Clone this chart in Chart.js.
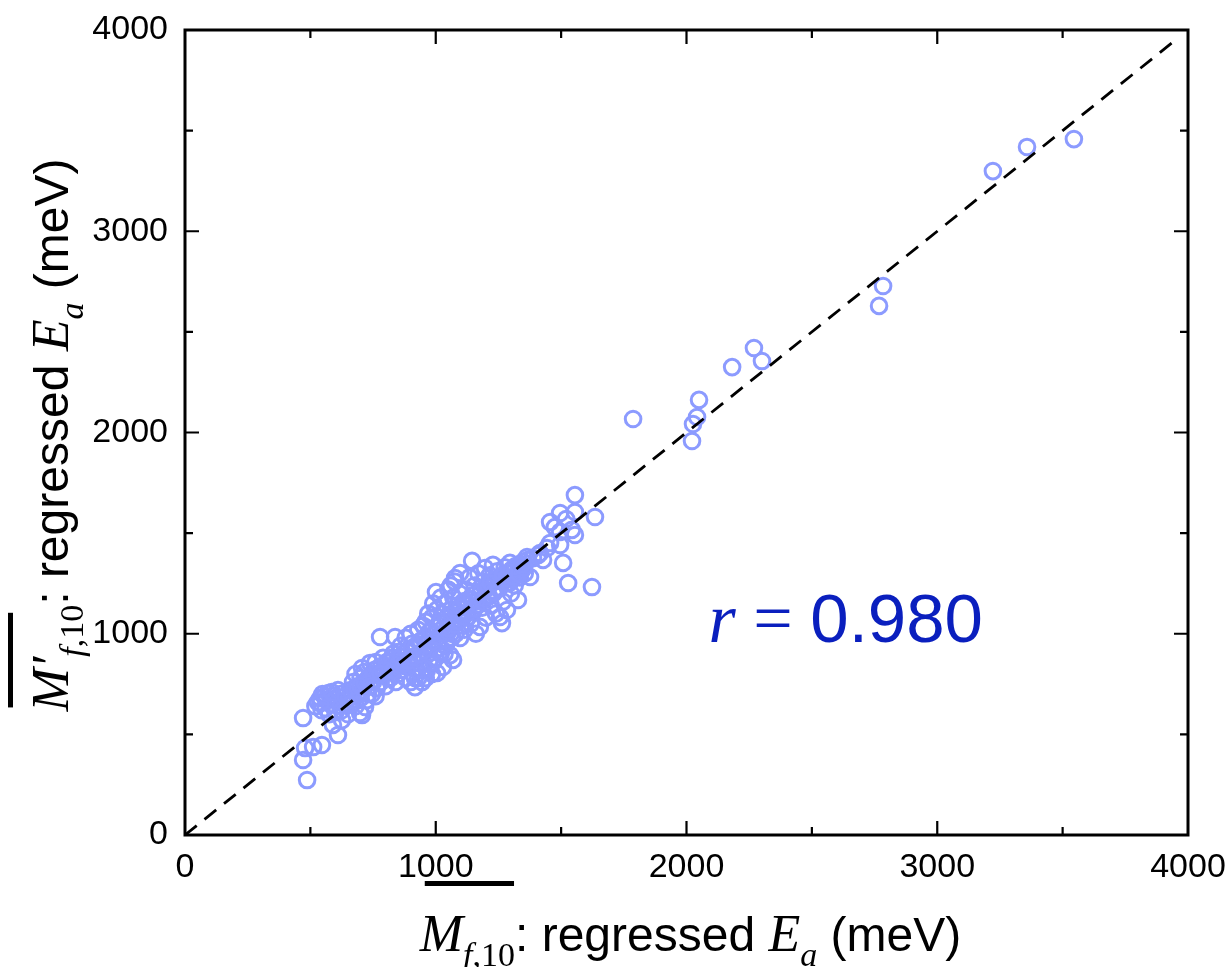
<!DOCTYPE html>
<html>
<head>
<meta charset="utf-8">
<script src="https://cdn.jsdelivr.net/npm/chart.js@4.4.1/dist/chart.umd.min.js"></script>
<style>
  html, body { margin: 0; padding: 0; background: #fff; }
  canvas { display: block; }
</style>
</head>
<body>
<canvas id="chart" width="1231" height="967"></canvas>
<script>
// axis ticks (meV)
const tickValues = [0, 1000, 2000, 3000, 4000];
const minorStep = 500;

// [M_f,10 regressed Ea, M'_f,10 regressed Ea] pairs
const lowEndPoints = [
  [471, 581], [487, 273], [471, 373], [479, 432], [511, 437], [546, 447],
  [610, 497], [590, 547], [626, 571], [520, 640], [530, 660], [540, 680],
  [548, 700], [556, 690], [565, 670], [572, 705], [580, 650], [590, 690],
  [600, 675], [560, 630], [545, 620], [612, 660], [620, 700], [630, 685],
  [640, 650], [575, 600], [600, 610], [625, 620], [655, 680], [540, 655],
  [585, 710], [610, 720], [650, 600], [665, 700], [680, 640], [698, 606]
];

const lowerBandPoints = [
  [706, 596], [718, 636], [706, 830], [738, 855], [660, 720], [670, 760],
  [685, 700], [690, 740], [700, 780], [710, 720], [720, 750], [730, 700],
  [740, 790], [750, 760], [755, 820], [765, 730], [770, 800], [780, 760],
  [785, 840], [795, 800], [700, 680], [725, 670], [745, 700], [760, 860],
  [680, 800], [715, 810], [735, 740], [790, 880], [778, 984], [800, 740],
  [760, 690], [810, 820], [820, 860], [830, 900], [838, 984], [845, 870],
  [850, 800], [860, 940], [870, 900], [875, 840], [880, 980], [890, 920],
  [895, 860], [900, 1000], [905, 950], [910, 800], [917, 735], [917, 780],
  [925, 880], [930, 1020], [935, 960], [940, 900], [945, 820], [950, 1040],
  [820, 780], [840, 760], [860, 820], [880, 780], [900, 760], [930, 780],
  [945, 760], [909, 870], [965, 820], [1005, 805], [1029, 835], [1057, 894],
  [620, 640], [640, 690], [660, 650], [675, 720], [695, 700], [715, 760],
  [730, 780], [750, 800], [770, 830], [790, 820], [805, 860], [825, 880],
  [840, 840], [855, 910], [700, 740], [740, 740], [780, 800], [810, 780],
  [830, 820], [850, 850], [925, 820], [950, 860], [975, 850], [1000, 880],
  [1015, 930], [1035, 900], [960, 780], [985, 800], [1045, 960], [1060, 1000]
];

const centralBandPoints = [
  [955, 980], [960, 1060], [970, 900], [975, 1010], [980, 940], [985, 1080],
  [990, 860], [995, 1000], [1001, 1207], [1005, 1120], [1010, 960], [1015, 1040],
  [1020, 900], [1025, 1100], [1030, 1000], [1035, 1150], [1040, 940], [1045, 1060],
  [1050, 1010], [1060, 1120], [1065, 980], [1069, 870], [1070, 1180], [1075, 1060],
  [1080, 1000], [1085, 1140], [1090, 1090], [1095, 1200], [1097, 979], [1100, 1040],
  [970, 1100], [990, 1150], [1020, 1180], [1050, 1220], [1060, 1240], [1075, 1260],
  [1077, 1277], [1097, 1302], [1105, 1100], [1110, 1160], [1115, 1020], [1120, 1220],
  [1125, 1080], [1130, 1140], [1135, 1280], [1140, 1050], [1145, 1362], [1145, 1190],
  [1150, 1110], [1155, 1240], [1160, 1000], [1165, 1160], [1170, 1300], [1176, 1034],
  [1180, 1210], [1185, 1130], [1190, 1260], [1196, 1327], [1200, 1080], [1205, 1180],
  [862, 885], [873, 851], [884, 912], [891, 868], [903, 928], [908, 884],
  [921, 941], [933, 897], [938, 962], [952, 918], [958, 985], [968, 947],
  [982, 1013], [987, 962], [1003, 1031], [1012, 986], [1018, 1057], [1033, 1004],
  [1042, 1078], [1048, 1027], [1063, 1093], [1072, 1046], [1079, 1118], [1092, 1064],
  [1098, 1131], [1112, 1087], [1118, 1162], [1127, 1103], [1142, 1171], [1153, 1124],
  [1158, 1196], [1171, 1144], [1183, 1212], [1188, 1163], [1201, 1236], [1212, 1186]
];

const upperBandPoints = [
  [1210, 1230], [1215, 1290], [1220, 1140], [1228, 1342], [1230, 1200], [1235, 1260],
  [1240, 1100], [1245, 1310], [1250, 1230], [1256, 1083], [1260, 1280], [1264, 1053],
  [1268, 1160], [1275, 1330], [1280, 1250], [1284, 1118], [1290, 1300], [1296, 1352],
  [1300, 1200], [1305, 1270], [1310, 1320], [1315, 1240], [1320, 1290], [1328, 1168],
  [1330, 1340], [1335, 1280], [1340, 1310], [1348, 1357], [1355, 1300], [1364, 1381],
  [1376, 1282], [1368, 1367], [1344, 1317], [1388, 1376], [1408, 1391], [1428, 1367],
  [1416, 1401], [1444, 1426], [1456, 1451], [1496, 1441], [1496, 1506], [1543, 1516],
  [1555, 1491], [1456, 1555], [1496, 1600], [1555, 1605], [1508, 1352], [1528, 1252],
  [1623, 1232], [1555, 1689], [1635, 1580], [1475, 1530], [1520, 1570],
  [1219, 1252], [1232, 1207], [1238, 1271], [1252, 1224], [1262, 1262], [1268, 1291],
  [1281, 1276], [1293, 1251], [1302, 1318], [1311, 1283], [1318, 1336], [1333, 1297],
  [1342, 1344], [1352, 1331]
];

const outlierPoints = [
  [1787, 2067], [2022, 1958], [2026, 2042], [2042, 2077], [2050, 2162],
  [2182, 2325], [2269, 2420], [2301, 2355], [2768, 2629], [2784, 2728],
  [3222, 3299], [3358, 3419], [3545, 3458]
];

// y = x reference line ends
const parityLine = [[0, 0], [3950, 3950]];

const pointColor = "rgb(140, 155, 255)";
const annotColor = "#0a1fbe";
const sansFont = '"Liberation Sans", Arial, sans-serif';
const serifFont = '"Liberation Serif", "Times New Roman", serif';

const toXY = (arr) => arr.map(([x, y]) => ({ x, y }));
const allPoints = [].concat(
  lowEndPoints, lowerBandPoints, centralBandPoints, upperBandPoints, outlierPoints
);

function drawParts(ctx, parts, x, y) {
  parts.forEach((p) => {
    ctx.font = p.font;
    ctx.fillText(p.text, x, y + (p.dy || 0));
    p.x0 = x;
    x += ctx.measureText(p.text).width;
    p.x1 = x;
  });
  return x;
}

function partsWidth(ctx, parts) {
  let w = 0;
  parts.forEach((p) => {
    ctx.font = p.font;
    w += ctx.measureText(p.text).width;
  });
  return w;
}

function titleParts(prime) {
  return [
    { text: prime ? "M\u2032" : "M", font: "italic 52px " + serifFont },
    { text: "f", font: "italic 34px " + serifFont, dy: 15 },
    { text: ",10", font: "34px " + serifFont, dy: 15 },
    { text: ": regressed ", font: "48px " + sansFont },
    { text: "E", font: "italic 52px " + serifFont },
    { text: "a", font: "italic 34px " + serifFont, dy: 15 },
    { text: " (meV)", font: "48px " + sansFont }
  ];
}

const framePlugin = {
  id: "frame",
  afterDraw(chart) {
    const { ctx, chartArea: a, scales } = chart;
    const xs = scales.x, ys = scales.y;
    ctx.save();
    ctx.strokeStyle = "#000";
    ctx.lineWidth = 3;
    ctx.strokeRect(a.left, a.top, a.right - a.left, a.bottom - a.top);

    // inward ticks on all four sides
    ctx.lineWidth = 2.2;
    for (let v = minorStep; v < 4000; v += minorStep) {
      const len = v % 1000 === 0 ? 14 : 8;
      const px = xs.getPixelForValue(v);
      const py = ys.getPixelForValue(v);
      ctx.beginPath();
      ctx.moveTo(px, a.bottom); ctx.lineTo(px, a.bottom - len);
      ctx.moveTo(px, a.top); ctx.lineTo(px, a.top + len);
      ctx.moveTo(a.left, py); ctx.lineTo(a.left + len, py);
      ctx.moveTo(a.right, py); ctx.lineTo(a.right - len, py);
      ctx.stroke();
    }

    // x title
    ctx.fillStyle = "#000";
    ctx.textBaseline = "alphabetic";
    ctx.textAlign = "left";
    let parts = titleParts(false);
    let w = partsWidth(ctx, parts);
    const cx = (a.left + a.right) / 2 + 4;
    const baseX = a.bottom + 116;
    drawParts(ctx, parts, cx - w / 2, baseX);
    ctx.fillRect(parts[0].x0 + 5, baseX - 70, parts[2].x1 - parts[0].x0 - 6, 5);

    // y title (rotated)
    parts = titleParts(true);
    w = partsWidth(ctx, parts) + 14;
    ctx.save();
    ctx.translate(a.left - 117, 428);
    ctx.rotate(-Math.PI / 2);
    drawParts(ctx, parts, -w / 2, 0);
    ctx.fillRect(parts[0].x0 + 4, -60, parts[2].x1 - parts[0].x0 - 12, 5);
    ctx.restore();

    // correlation annotation
    ctx.fillStyle = annotColor;
    const ax = xs.getPixelForValue(2088);
    const ay = ys.getPixelForValue(960);
    drawParts(ctx, [
      { text: "r", font: "italic 70px " + serifFont },
      { text: " = ", font: "70px " + serifFont },
      { text: "0.980", font: "69px " + sansFont }
    ], ax, ay);
    ctx.restore();
  }
};

new Chart(document.getElementById("chart").getContext("2d"), {
  type: "scatter",
  data: {
    datasets: [
      {
        type: "line",
        data: toXY(parityLine),
        borderColor: "#000",
        borderWidth: 2.8,
        borderDash: [15, 10],
        pointRadius: 0,
        fill: false
      },
      {
        data: toXY(allPoints),
        pointStyle: "circle",
        pointRadius: 7.8,
        borderWidth: 3,
        borderColor: pointColor,
        backgroundColor: "rgba(0,0,0,0)"
      }
    ]
  },
  options: {
    responsive: false,
    animation: false,
    devicePixelRatio: 1,
    layout: { padding: { left: 0, top: 30, right: 43, bottom: 0 } },
    plugins: { legend: { display: false }, tooltip: { enabled: false } },
    scales: {
      x: {
        type: "linear",
        min: 0,
        max: 4000,
        grid: { display: false, drawTicks: false },
        border: { display: false },
        afterBuildTicks: (s) => { s.ticks = tickValues.map((v) => ({ value: v })); },
        ticks: {
          padding: 12,
          color: "#000",
          font: { family: sansFont, size: 34 },
          maxRotation: 0,
          callback: (v) => String(v)
        },
        afterFit: (s) => {
          s.height = 132;
          s.paddingLeft = 0;
          s.paddingRight = 0;
        }
      },
      y: {
        type: "linear",
        min: 0,
        max: 4000,
        grid: { display: false, drawTicks: false },
        border: { display: false },
        afterBuildTicks: (s) => { s.ticks = tickValues.map((v) => ({ value: v })); },
        ticks: {
          padding: 17,
          color: "#000",
          font: { family: sansFont, size: 34 },
          callback: (v) => String(v)
        },
        afterFit: (s) => {
          s.width = 185;
          s.paddingTop = 0;
          s.paddingBottom = 0;
        }
      }
    }
  },
  plugins: [framePlugin]
});
</script>
</body>
</html>
